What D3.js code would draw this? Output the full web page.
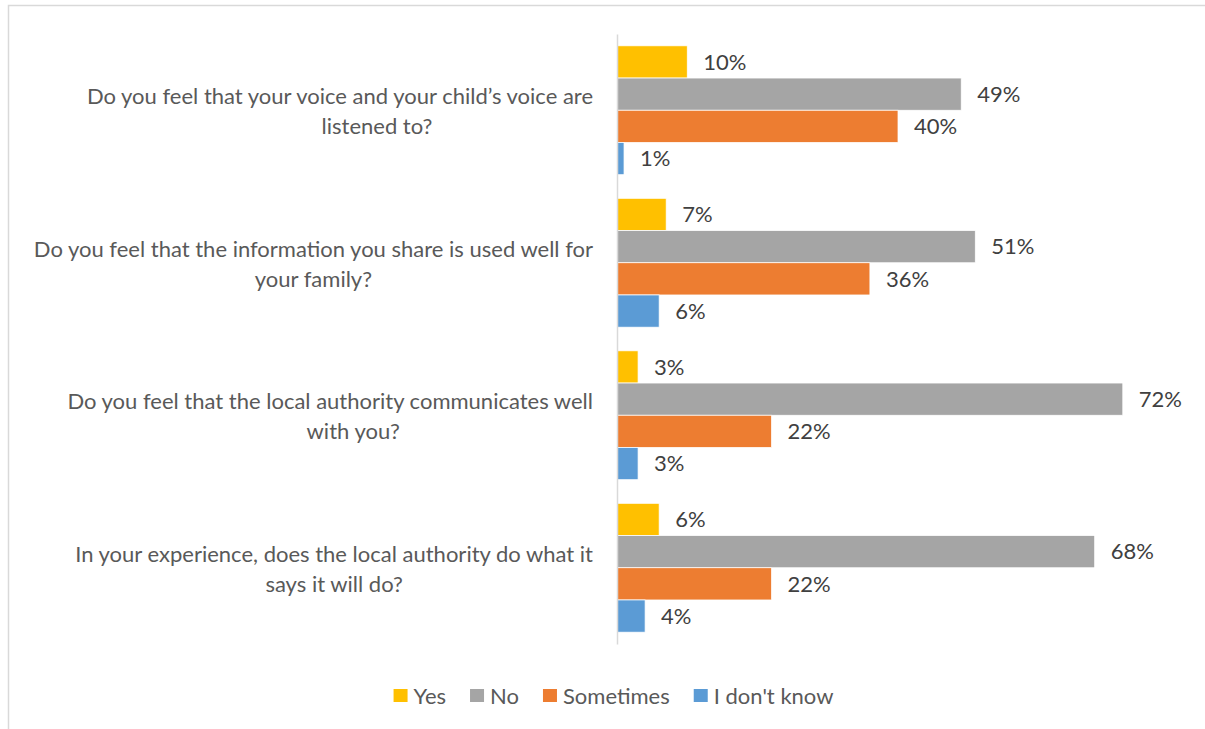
<!DOCTYPE html>
<html>
<head>
<meta charset="utf-8">
<script src="https://cdn.jsdelivr.net/npm/d3@7"></script>
<style>
  html, body { margin: 0; padding: 0; background: #fff; }
  svg { display: block; }
  text { font-family: Lato, "Noto Sans", sans-serif; }
</style>
</head>
<body>
<svg id="chart" width="1205" height="729"></svg>
<script>
// Survey questions, each wrapped over two lines
const questions = [
  ["Do you feel that your voice and your child\u2019s voice are", "listened to?"],
  ["Do you feel that the information you share is used well for", "your family?"],
  ["Do you feel that the local authority communicates well", "with you?"],
  ["In your experience, does the local authority do what it", "says it will do?"]
];
const seriesNames = ["Yes", "No", "Sometimes", "I don't know"];
const seriesColors = ["#FFC000", "#A5A5A5", "#ED7D31", "#5B9BD5"];

// Percent of responses per question, one array per answer
const yesValues       = [10, 7, 3, 6];
const noValues        = [49, 51, 72, 68];
const sometimesValues = [40, 36, 22, 22];
const dontKnowValues  = [1, 6, 3, 4];
const seriesValues = [yesValues, noValues, sometimesValues, dontKnowValues];

const svg = d3.select("#chart");
const fontSize = 22;

// Outer frame (top and left edges visible)
svg.append("path")
  .attr("d", "M8.5,729 L8.5,5.5 L1205,5.5")
  .attr("fill", "none")
  .attr("stroke", "#D9D9D9")
  .attr("stroke-width", 1.5);

const plot = { left: 617, right: 1179, top: 34, bottom: 644 };

const x = d3.scaleLinear().domain([0, 80]).range([plot.left, plot.right]);
const y0 = d3.scaleBand()
  .domain(d3.range(questions.length))
  .range([plot.top, plot.bottom])
  .paddingInner(0.155)
  .paddingOuter(0.0775);
const y1 = d3.scaleBand()
  .domain(d3.range(seriesNames.length))
  .range([0, y0.bandwidth()]);

// Bars
const groups = svg.append("g").selectAll("g")
  .data(questions.map((q, i) => i))
  .join("g")
  .attr("transform", i => `translate(0,${y0(i)})`);

groups.selectAll("rect")
  .data(i => seriesValues.map((vals, s) => ({ s, v: vals[i] })))
  .join("rect")
  .attr("x", x(0))
  .attr("y", d => y1(d.s))
  .attr("width", d => x(d.v) - x(0))
  .attr("height", y1.bandwidth())
  .attr("fill", d => seriesColors[d.s])
  .attr("stroke", "#fff")
  .attr("stroke-width", 0.75);

// Value labels
groups.selectAll("text.val")
  .data(i => seriesValues.map((vals, s) => ({ s, v: vals[i] })))
  .join("text")
  .attr("class", "val")
  .attr("x", d => x(d.v) + 16)
  .attr("y", d => y1(d.s) + y1.bandwidth() / 2)
  .attr("dy", "0.35em")
  .attr("font-size", fontSize)
  .attr("fill", "#404040")
  .text(d => d.v + "%");

// Vertical category axis line
const yAxis = d3.axisLeft(y0).tickSize(0).tickFormat(() => "");
const axisG = svg.append("g")
  .attr("transform", `translate(${plot.left},0)`)
  .call(yAxis);
axisG.select(".domain").attr("stroke", "#D9D9D9").attr("stroke-width", 1.5);

// Category labels: first line ends near the axis, second line centred beneath it
const lineShift = [37, 0, 23, 0];
const labelRight = plot.left - 24;
const labels = svg.append("g");
questions.forEach((lines, i) => {
  const cy = y0(i) + y0.bandwidth() / 2;
  const t = labels.append("text")
    .attr("font-size", fontSize)
    .attr("fill", "#595959")
    .attr("text-anchor", "end")
    .attr("x", labelRight)
    .attr("y", cy - 6)
    .text(lines[0]);
  const w = t.node().getComputedTextLength();
  labels.append("text")
    .attr("font-size", fontSize)
    .attr("fill", "#595959")
    .attr("text-anchor", "middle")
    .attr("x", labelRight - w / 2 + lineShift[i])
    .attr("y", cy + 24)
    .text(lines[1]);
});

// Legend, centred under the plot
const legend = svg.append("g");
let lx = 0;
seriesNames.forEach((name, s) => {
  const item = legend.append("g").attr("transform", `translate(${lx},0)`);
  item.append("rect")
    .attr("x", 0).attr("y", -7)
    .attr("width", 14).attr("height", 13)
    .attr("fill", seriesColors[s]);
  const t = item.append("text")
    .attr("x", 20).attr("y", 0).attr("dy", "0.35em")
    .attr("font-size", fontSize)
    .attr("fill", "#595959")
    .text(name);
  lx += 20 + t.node().getComputedTextLength() + 24;
});
const legendWidth = lx - 24;
legend.attr("transform", `translate(${613.5 - legendWidth / 2},696)`);
</script>
</body>
</html>
